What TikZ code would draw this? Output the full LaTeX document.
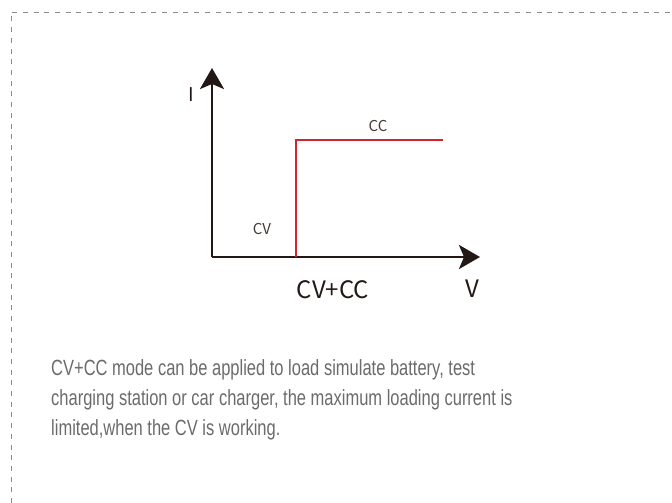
\documentclass[tikz,border=0pt]{standalone}
\usepackage{fontspec}
\setmainfont[FakeStretch=0.75]{Liberation Sans}
\newfontfamily\cjk{Noto Sans CJK SC}
\usetikzlibrary{arrows, arrows.meta}

\definecolor{axisblack}{HTML}{231815}
\definecolor{curvered}{HTML}{D2232E}
\definecolor{framegray}{HTML}{8C8C8C}
\definecolor{textgray}{HTML}{6B6B6B}

\begin{document}
\begin{tikzpicture}[x=1pt,y=-1pt,
  axis/.style={line width=2.8pt,axisblack,-{Stealth[length=21pt,width=24pt,inset=5pt]}},
  curve/.style={line width=2.8pt,curvered},
  lbl/.style={inner sep=0pt,anchor=base,font=\cjk,text=axisblack}]
\useasboundingbox (0,0) rectangle (672,503);

% frame, only top and left side are dashed
\coordinate (fcorner) at (11,12);
\coordinate (ftop) at (672,12);
\coordinate (fleft) at (11,503);
\draw[framegray,line width=0.9pt,dash pattern=on 5pt off 5.7pt] (fleft) -- (fcorner) -- (ftop);

\coordinate (O) at (212,257);
\coordinate (xend) at (480,257);
\coordinate (yend) at (212,68);
\draw[axis] (O) -- (xend);
\draw[axis] (O) -- (yend);

\coordinate (cvfoot) at (296,257);
\coordinate (knee) at (296,140);
\coordinate (ccend) at (443,140);
\draw[curve] (cvfoot) -- (knee) -- (ccend);

\node[lbl,font=\cjk\fontsize{19}{19}\selectfont] (ilab) at (191,102) {I};
\node[lbl,font=\cjk\fontsize{24}{24}\selectfont] (vlab) at (472,297) {V};
\node[lbl,font=\cjk\fontsize{15}{15}\selectfont,text=axisblack!85] (cclab) at (378,131) {CC};
\node[lbl,font=\cjk\fontsize{15}{15}\selectfont,text=axisblack!85] (cvlab) at (262,234) {CV};
\node[lbl,font=\cjk\fontsize{24}{24}\selectfont] (modelab) at (333,298) {CV+CC};

% base anchor sits on the last line
\node[inner sep=0pt,anchor=base west,align=left,text=textgray,
  font=\fontsize{22}{30}\selectfont] (desc) at (51,435)
  {CV+CC mode can be applied to load simulate battery, test\\
   charging station or car charger, the maximum loading current is\\
   limited,when the CV is working.};
\end{tikzpicture}
\end{document}
